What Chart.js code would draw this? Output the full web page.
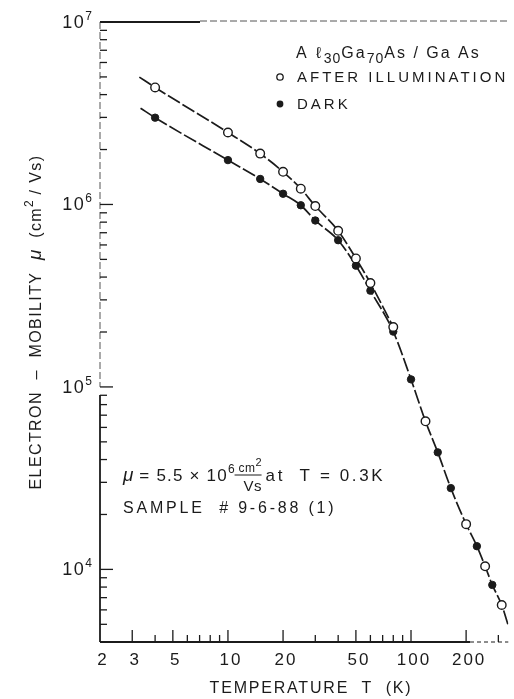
<!DOCTYPE html>
<html lang="en">
<head>
    <meta charset="UTF-8">
    <title>Electron mobility vs temperature</title>
    <script src="https://cdn.jsdelivr.net/npm/chart.js"></script>
    <style>
        html, body { margin: 0; padding: 0; background: #fff; }
        canvas { display: block; }
    </style>
</head>
<body>
    <canvas id="myChart" width="514" height="699"></canvas>
    <script>
        // mobility (cm^2/Vs) against temperature (K)
        const tempLight = [4, 10, 15, 20, 25, 30, 40, 50, 60, 80];
        const muLight = [4.38e6, 2.48e6, 1.9e6, 1.51e6, 1.22e6, 9.8e5, 7.17e5, 5.06e5, 3.71e5, 2.13e5];
        const tempDark = [4, 10, 15, 20, 25, 30, 40, 50, 60, 80];
        const muDark = [2.99e6, 1.75e6, 1.38e6, 1.145e6, 9.9e5, 8.17e5, 6.37e5, 4.62e5, 3.37e5, 2.01e5];

        // above 80 K both runs lie on one curve
        const tempHigh = [100, 120, 140, 165, 200, 229, 254, 278, 313];
        const muHigh = [1.10e5, 6.48e4, 4.38e4, 2.79e4, 1.77e4, 1.34e4, 1.04e4, 8.22e3, 6.38e3];
        const highOpen = [false, true, false, false, true, false, true, false, true];

        // ends of the drawn curves
        const lightStart = [3.28, 4.99e6];
        const darkStart = [3.33, 3.37e6];
        const curveEnd = [340, 4.92e3];

        const xTickVals = [2, 3, 5, 10, 20, 50, 100, 200];
        const xTickLabels = ['2', '3', '5', '10', '20', '50', '100', '200'];
        const xMinorVals = [4, 6, 7, 8, 9, 30, 40, 60, 70, 80, 90, 300];
        const yDecades = [4, 5, 6, 7];

        const ink = '#1b1b1b';
        const FONT = '"Liberation Sans", Arial, sans-serif';

        const pts = (xs, ys) => xs.map((v, i) => ({ x: v, y: ys[i] }));

        const openPts = pts(tempLight, muLight)
            .concat(pts(tempHigh, muHigh).filter((p, i) => highOpen[i]));
        const darkPts = pts(tempDark, muDark)
            .concat(pts(tempHigh, muHigh).filter((p, i) => !highOpen[i]));

        const lightCurve = [{ x: lightStart[0], y: lightStart[1] }].concat(pts(tempLight, muLight));
        const darkCurve = [{ x: darkStart[0], y: darkStart[1] }]
            .concat(pts(tempDark, muDark), pts(tempHigh, muHigh), [{ x: curveEnd[0], y: curveEnd[1] }]);

        function font(size, style) {
            return (style ? style + ' ' : '') + size + 'px ' + FONT;
        }

        // draws text pieces one after another (for sub/superscripts)
        function runs(ctx, parts, x, y, align) {
            let total = 0;
            const widths = parts.map(p => {
                ctx.font = font(p.size, p.style);
                ctx.letterSpacing = '0px';
                const w = ctx.measureText(p.t).width + (p.sp || 0) * [...p.t].length;
                total += w;
                return w;
            });
            let cx = align === 'center' ? x - total / 2 : align === 'right' ? x - total : x;
            parts.forEach((p, i) => {
                ctx.font = font(p.size, p.style);
                ctx.letterSpacing = (p.sp || 0) + 'px';
                ctx.fillText(p.t, cx, y + (p.dy || 0));
                cx += widths[i];
            });
            ctx.letterSpacing = '0px';
            return cx;
        }

        function line(ctx, x1, y1, x2, y2) {
            ctx.beginPath();
            ctx.moveTo(x1, y1);
            ctx.lineTo(x2, y2);
            ctx.stroke();
        }

        const decor = {
            id: 'decor',
            beforeDatasetsDraw(chart) {
                const { ctx, chartArea: a, scales: { x, y } } = chart;
                ctx.save();
                ctx.strokeStyle = ink;

                // frame: heavy top-left, broken further out
                ctx.lineWidth = 2;
                line(ctx, a.left, a.top, 200, a.top);
                ctx.lineWidth = 1;
                ctx.setLineDash([7, 3]);
                ctx.strokeStyle = '#555';
                line(ctx, 200, a.top - 1, a.right, a.top - 1);
                line(ctx, a.left, a.top, a.left, y.getPixelForValue(1e5));
                ctx.setLineDash([]);
                ctx.strokeStyle = ink;
                ctx.lineWidth = 1.8;
                line(ctx, a.left, y.getPixelForValue(1e5) + 8, a.left, a.bottom);
                line(ctx, a.left, a.bottom, 470, a.bottom);
                ctx.lineWidth = 1;
                ctx.setLineDash([4, 3]);
                line(ctx, 470, a.bottom, a.right, a.bottom);
                ctx.setLineDash([]);

                // ticks point into the plot
                ctx.lineWidth = 1.3;
                xTickVals.forEach(v => {
                    const px = x.getPixelForValue(v);
                    if (v > 2) line(ctx, px, a.bottom, px, a.bottom - 12);
                });
                xMinorVals.forEach(v => {
                    const px = x.getPixelForValue(v);
                    line(ctx, px, a.bottom, px, a.bottom - 7);
                });
                yDecades.forEach(e => {
                    const py = y.getPixelForValue(Math.pow(10, e));
                    line(ctx, a.left, py, a.left + 13, py);
                    for (let m = 2; m <= 9; m++) {
                        const v = m * Math.pow(10, e - 1);
                        if (v < y.min) continue;
                        const pm = y.getPixelForValue(v);
                        line(ctx, a.left, pm, a.left + 7, pm);
                    }
                });
                ctx.restore();
            },
            afterDraw(chart) {
                const { ctx, chartArea: a, scales: { x, y } } = chart;
                ctx.save();
                ctx.fillStyle = ink;
                ctx.strokeStyle = ink;
                ctx.textBaseline = 'alphabetic';
                ctx.textAlign = 'left';

                // tick labels
                xTickVals.forEach((v, i) => {
                    runs(ctx, [{ t: xTickLabels[i], size: 17, sp: 2 }], x.getPixelForValue(v) + 3, a.bottom + 23, 'center');
                });
                yDecades.forEach(e => {
                    const py = y.getPixelForValue(Math.pow(10, e));
                    runs(ctx, [{ t: '10', size: 18, sp: 1.5 }, { t: String(e), size: 12, dy: -8 }], 92, py + 6, 'right');
                });

                // axis titles
                runs(ctx, [{ t: 'TEMPERATURE  T  (K)', size: 16, sp: 1.8 }], 311, 693, 'center');
                ctx.save();
                ctx.translate(41, 322);
                ctx.rotate(-Math.PI / 2);
                runs(ctx, [
                    { t: 'ELECTRON  –  MOBILITY  ', size: 16, sp: 1.4 },
                    { t: 'μ', size: 19, style: 'italic' },
                    { t: '  (cm', size: 16, sp: 1.4 },
                    { t: '2', size: 12, dy: -8 },
                    { t: ' / Vs)', size: 16, sp: 1.4 }
                ], 0, 0, 'center');
                ctx.restore();

                // legend
                runs(ctx, [
                    { t: 'A ℓ', size: 16, sp: 2.5 },
                    { t: '30', size: 14, sp: 1, dy: 5 },
                    { t: 'Ga', size: 16, sp: 2 },
                    { t: '70', size: 14, sp: 1, dy: 5 },
                    { t: 'As / Ga As', size: 16, sp: 2 }
                ], 296, 58);
                ctx.lineWidth = 1.3;
                ctx.beginPath();
                ctx.arc(280, 77, 3.2, 0, Math.PI * 2);
                ctx.stroke();
                ctx.beginPath();
                ctx.arc(280, 104, 3.4, 0, Math.PI * 2);
                ctx.fill();
                runs(ctx, [{ t: 'AFTER ILLUMINATION', size: 15, sp: 3 }], 297, 82);
                runs(ctx, [{ t: 'DARK', size: 15, sp: 3 }], 297, 109);

                // low-temperature value and sample id
                let cx = runs(ctx, [
                    { t: 'μ', size: 19, style: 'italic' },
                    { t: ' = 5.5 × 10', size: 17, sp: 1.2 },
                    { t: '6', size: 12, dy: -8 }
                ], 123, 481);
                runs(ctx, [{ t: 'cm', size: 12, sp: 0.5 }, { t: '2', size: 11, dy: -6 }], cx + 4, 472);
                ctx.lineWidth = 1;
                line(ctx, cx, 475, cx + 27, 475);
                runs(ctx, [{ t: 'Vs', size: 15, sp: 0.5 }], cx + 9, 491);
                runs(ctx, [{ t: 'at  T = 0.3K', size: 17, sp: 2.6 }], cx + 31, 481);
                runs(ctx, [{ t: 'SAMPLE  # 9-6-88 (1)', size: 16, sp: 2.8 }], 123, 513);
                ctx.restore();
            }
        };

        const ctx = document.getElementById('myChart').getContext('2d');
        const myChart = new Chart(ctx, {
            type: 'line',
            data: {
                datasets: [
                    {
                        label: 'AFTER ILLUMINATION',
                        data: openPts,
                        showLine: false,
                        pointRadius: 4.3,
                        pointBorderWidth: 1.4,
                        pointBackgroundColor: '#fff',
                        pointBorderColor: ink
                    },
                    {
                        label: 'DARK',
                        data: darkPts,
                        showLine: false,
                        pointRadius: 3.7,
                        pointBorderWidth: 1,
                        pointBackgroundColor: ink,
                        pointBorderColor: ink
                    },
                    {
                        label: 'fit light',
                        data: lightCurve,
                        pointRadius: 0,
                        borderColor: ink,
                        borderWidth: 1.7,
                        borderDash: [14, 3],
                        cubicInterpolationMode: 'monotone',
                        fill: false
                    },
                    {
                        label: 'fit dark',
                        data: darkCurve,
                        pointRadius: 0,
                        borderColor: ink,
                        borderWidth: 1.7,
                        borderDash: [14, 3],
                        cubicInterpolationMode: 'monotone',
                        fill: false
                    }
                ]
            },
            options: {
                responsive: false,
                animation: false,
                layout: { padding: { top: 22, right: 0, left: 0, bottom: 0 } },
                plugins: {
                    legend: { display: false },
                    tooltip: { enabled: false }
                },
                scales: {
                    x: {
                        type: 'logarithmic',
                        min: 2,
                        max: 340,
                        grid: { display: false },
                        border: { display: false },
                        ticks: { display: false },
                        afterFit: s => { s.height = 57; }
                    },
                    y: {
                        type: 'logarithmic',
                        min: 4000,
                        max: 1e7,
                        grid: { display: false },
                        border: { display: false },
                        ticks: { display: false },
                        afterFit: s => { s.width = 100; }
                    }
                }
            },
            plugins: [decor]
        });
    </script>
</body>
</html>
